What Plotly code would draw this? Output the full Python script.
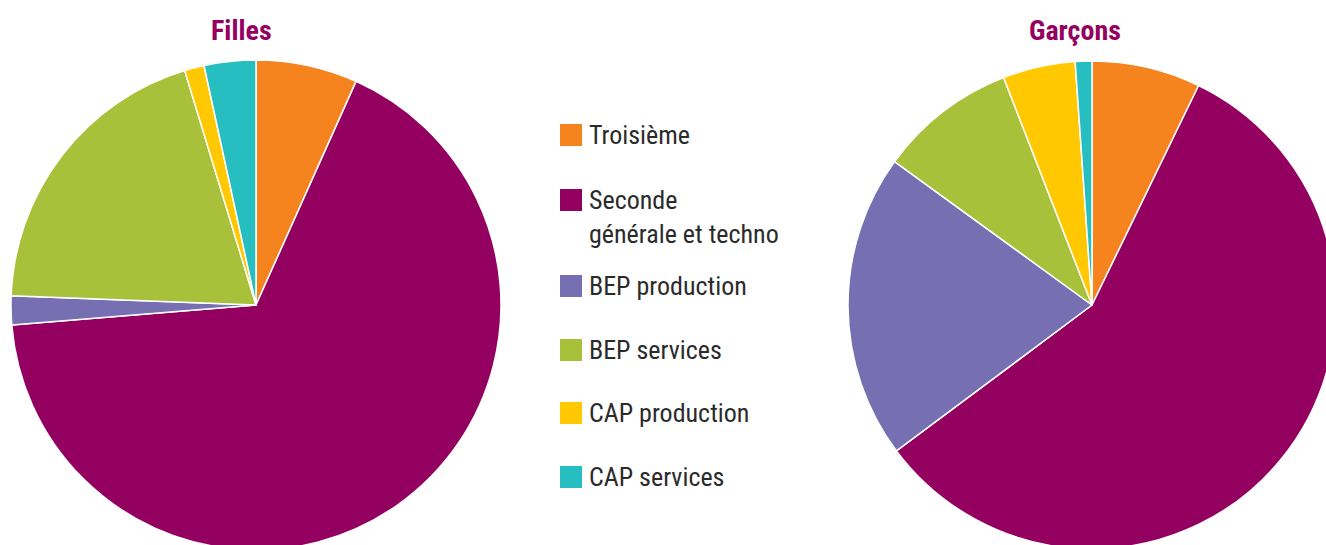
import plotly.graph_objects as go

# ----------------------------
# Data
# ----------------------------

categories = [
    "Troisième",
    "Seconde<br>générale et techno",
    "BEP production",
    "BEP services",
    "CAP production",
    "CAP services",
]
filles = [6.7, 67.0, 1.9, 19.7, 1.3, 3.4]
garcons = [7.2, 57.6, 20.2, 9.1, 4.8, 1.1]
colors = ["#F5841F", "#930060", "#7670B3", "#A9C03A", "#FFC800", "#26BEC0"]

# figure slightly larger than the window so both pies get cut off at the
# bottom / right edge like in the original
W, H = 1340, 560
FONT = "Liberation Sans Narrow, Roboto Condensed, Roboto, sans-serif"
TITLE_COLOR = "#930060"
TEXT_COLOR = "#2b2b2b"


def px_x(x):
    # page pixel -> paper
    return x / W


def px_y(y):
    # page pixel from top -> paper
    return 1 - y / H


fig = go.Figure()

pie_style = dict(
    sort=False,
    direction="clockwise",
    rotation=0,
    textinfo="none",
    hoverinfo="label+percent",
    marker=dict(colors=colors, line=dict(color="white", width=1.5)),
    showlegend=False,
)

fig.add_trace(
    go.Pie(
        labels=categories,
        values=filles,
        name="Filles",
        domain=dict(x=[px_x(11), px_x(501)], y=[px_y(550), px_y(60)]),
        **pie_style,
    )
)
fig.add_trace(
    go.Pie(
        labels=categories,
        values=garcons,
        name="Garçons",
        domain=dict(x=[px_x(848), px_x(1336)], y=[px_y(549), px_y(61)]),
        **pie_style,
    )
)

# titles
for txt, x in [("Filles", 241), ("Garçons", 1075)]:
    fig.add_annotation(
        text=f"<b>{txt}</b>",
        x=px_x(x), y=px_y(30), xref="paper", yref="paper",
        showarrow=False, xanchor="center", yanchor="middle",
        font=dict(family=FONT, size=28, color=TITLE_COLOR),
    )

# hand-made legend (squares + labels)
legend_y = [135, 200, 286, 350, 413, 477]
for label, col, y in zip(categories, colors, legend_y):
    fig.add_shape(
        type="rect", xref="paper", yref="paper",
        x0=px_x(560), x1=px_x(582), y0=px_y(y - 11), y1=px_y(y + 11),
        fillcolor=col, line=dict(width=0),
    )
    fig.add_annotation(
        text=label,
        x=px_x(587), y=px_y(y - 17), xref="paper", yref="paper",
        showarrow=False, xanchor="left", yanchor="top", align="left",
        font=dict(family=FONT, size=26, color=TEXT_COLOR),
    )

fig.update_layout(
    width=W,
    height=H,
    margin=dict(l=0, r=0, t=0, b=0),
    paper_bgcolor="white",
    plot_bgcolor="white",
    font=dict(family=FONT, color=TEXT_COLOR),
)

# drop the default 8px body margin so the figure starts at the window corner
fig.write_html(
    "out.html",
    config={"displayModeBar": False},
    post_script="document.body.style.margin='0';"
    "document.documentElement.style.overflow='hidden';",
)
